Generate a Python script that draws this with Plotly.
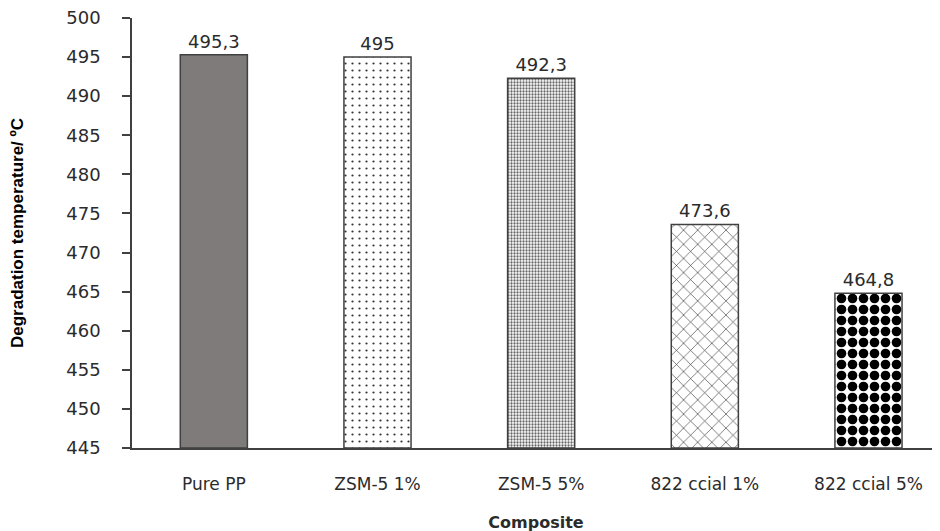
import plotly.graph_objects as go

categories = ["Pure PP", "ZSM-5 1%", "ZSM-5 5%", "822 ccial 1%", "822 ccial 5%"]
values = [495.3, 495.0, 492.3, 473.6, 464.8]
value_labels = ["495,3", "495", "492,3", "473,6", "464,8"]
y_ticks = [445, 450, 455, 460, 465, 470, 475, 480, 485, 490, 495, 500]
y_base = 445

bg_colors = ["#7f7b7a", "#ffffff", "#ffffff", "#ffffff", "#ffffff"]
shapes = ["", ".", ".", "x", "."]
fg_colors = ["#7f7b7a", "#333333", "#666666", "#333333", "#000000"]
sizes = [8, 7, 3, 10, 11]
solidities = [0.2, 0.08, 0.45, 0.12, 0.6]

ax_col = "#404040"
txt_col = "#2b2b2b"

fig = go.Figure()
for i, cat in enumerate(categories):
    pattern = dict(shape=shapes[i], fgcolor=fg_colors[i], bgcolor=bg_colors[i],
                   size=sizes[i], solidity=solidities[i], fillmode="replace")
    fig.add_trace(go.Bar(
        x=[i],
        y=[values[i] - y_base],
        base=y_base,
        width=0.41,
        name=cat,
        marker=dict(color=bg_colors[i], line=dict(color=ax_col, width=1.5),
                    pattern=pattern),
        text=[value_labels[i]],
        textposition="outside",
        textfont=dict(family="DejaVu Sans", size=18, color=txt_col),
        cliponaxis=False,
    ))

fig.update_layout(
    width=940, height=531,
    margin=dict(l=124, r=8, t=10, b=91, autoexpand=False),
    paper_bgcolor="white", plot_bgcolor="white",
    showlegend=False, barmode="overlay",
    font=dict(family="DejaVu Sans", color=txt_col),
)
fig.update_xaxes(
    range=[-0.5, 4.437],
    tickvals=list(range(len(categories))),
    ticktext=categories,
    tickfont=dict(family="DejaVu Sans", size=17, color=txt_col),
    showline=True, linecolor=ax_col, linewidth=1.5,
    ticks="", showgrid=False, zeroline=False,
    ticklabelstandoff=20, automargin=False,
    ticklabeloverflow="allow",
    title=dict(text="<b>Composite</b>", font=dict(family="DejaVu Sans", size=16, color=txt_col), standoff=24),
)
fig.update_yaxes(
    range=[445, 500],
    tickvals=y_ticks,
    tickfont=dict(family="DejaVu Sans", size=18, color=txt_col),
    showline=True, linecolor=ax_col, linewidth=1.5,
    ticks="outside", ticklen=8, tickwidth=1.5, tickcolor=ax_col,
    showgrid=False, zeroline=False,
    ticklabelstandoff=18, automargin=False,
    ticklabeloverflow="allow",
    title=dict(text="<b>Degradation temperature/ ºC</b>",
               font=dict(family="Liberation Sans", size=17, color="#000000"), standoff=38),
)

fig.write_html("out.html")
